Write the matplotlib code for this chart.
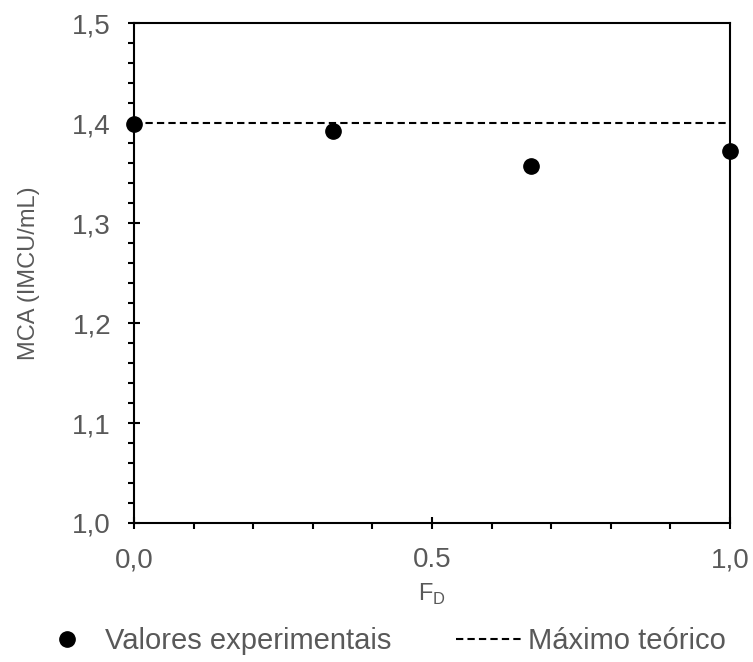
import matplotlib.pyplot as plt
from matplotlib.ticker import MultipleLocator, FixedLocator, FixedFormatter

plt.rcParams['font.family'] = ['Liberation Sans', 'DejaVu Sans']

# Measured activity vs. fraction F_D
fd = [0.0, 1 / 3, 2 / 3, 1.0]
mca = [1.399, 1.392, 1.357, 1.372]

# Theoretical maximum
max_teorico = 1.4

x_ticks = [0.0, 0.5, 1.0]
x_ticklabels = ['0,0', '0.5', '1,0']
y_ticks = [1.0, 1.1, 1.2, 1.3, 1.4, 1.5]
y_ticklabels = ['1,0', '1,1', '1,2', '1,3', '1,4', '1,5']

grey = '#595959'

fig = plt.figure(figsize=(7.53, 6.62), dpi=100)
ax = fig.add_axes([0.178, 0.210, 0.7915, 0.755])

pts, = ax.plot(fd, mca, 'o', color='black', markersize=11, clip_on=False,
               zorder=3, label='Valores experimentais')
line, = ax.plot([0, 1], [max_teorico, max_teorico], color='black', lw=1.5,
                dashes=(3.5, 2), label='Máximo teórico')

ax.set_xlim(0, 1)
ax.set_ylim(1.0, 1.5)

ax.xaxis.set_major_locator(FixedLocator(x_ticks))
ax.xaxis.set_major_formatter(FixedFormatter(x_ticklabels))
ax.xaxis.set_minor_locator(MultipleLocator(0.1))
ax.yaxis.set_major_locator(FixedLocator(y_ticks))
ax.yaxis.set_major_formatter(FixedFormatter(y_ticklabels))
ax.yaxis.set_minor_locator(MultipleLocator(0.02))

ax.tick_params(which='major', direction='inout', length=9, width=1.5,
               labelsize=20, labelcolor=grey)
ax.tick_params(axis='x', which='major', pad=13)
ax.tick_params(axis='y', which='major', pad=12)
ax.tick_params(which='minor', direction='out', length=4.5, width=1.5)

for s in ax.spines.values():
    s.set_linewidth(1.5)

ax.set_ylabel('MCA (IMCU/mL)', fontsize=17, color=grey, labelpad=23)
ax.set_xlabel('F$_\\mathregular{D}$', fontsize=17, color=grey, labelpad=6)

fig.legend(handles=[pts, line], loc='center left',
           bbox_to_anchor=(33 / 753, 1 - 641 / 662), ncol=2, frameon=False,
           fontsize=21, labelcolor=grey, handlelength=2.33, handletextpad=0.15,
           columnspacing=2.2, borderpad=0, borderaxespad=0)

fig.savefig('out.png', dpi=100)
